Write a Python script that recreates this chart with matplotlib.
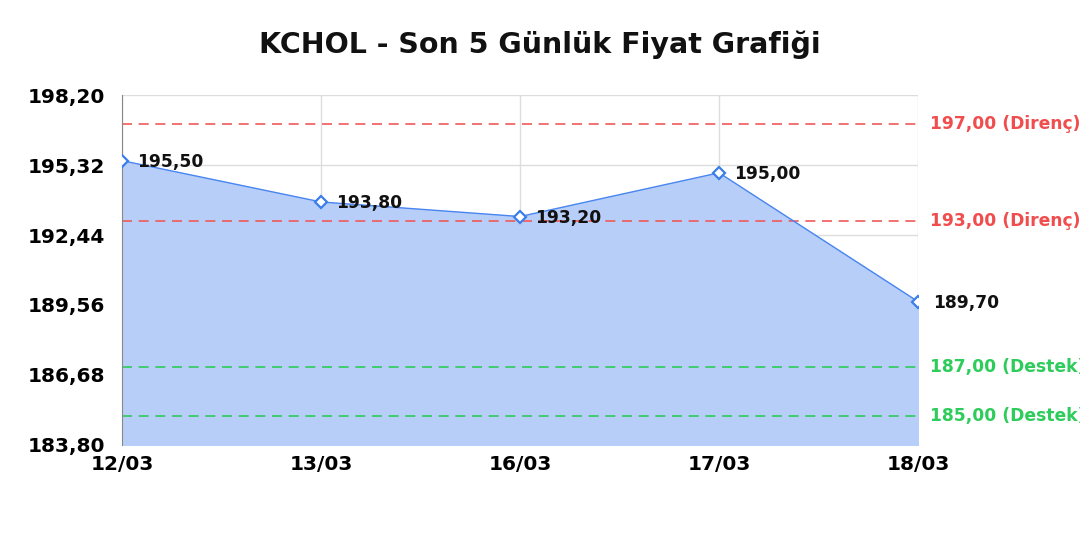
import matplotlib
matplotlib.use("Agg")
import matplotlib.pyplot as plt

dates = ["12/03", "13/03", "16/03", "17/03", "18/03"]
prices = [195.50, 193.80, 193.20, 195.00, 189.70]
resistance = [197.00, 193.00]
support = [187.00, 185.00]
yticks = [183.80, 186.68, 189.56, 192.44, 195.32, 198.20]


def fmt(v):
    return ("%.2f" % v).replace(".", ",")


fig = plt.figure(figsize=(10.8, 5.4), dpi=100)
ax = fig.add_axes([0.113, 0.176, 0.737, 0.648])

x = list(range(len(dates)))
ax.fill_between(x, prices, yticks[0], color="#b7cff8", zorder=1)
ax.plot(x, prices, color="#4a86f0", lw=1, zorder=3)
ax.plot(x, prices, ls="none", marker="D", ms=6.5, mfc="white", mec="#3b7de9", mew=1.6, zorder=4)

for xi, p in zip(x, prices):
    ax.annotate(fmt(p), (xi, p), xytext=(11, -1), textcoords="offset points",
                fontsize=12.3, fontweight="bold", color="#111111", va="center", ha="left",
                annotation_clip=False, zorder=5)

for lvl in resistance:
    ax.axhline(lvl, color="#f05a5a", ls=(0, (6, 4)), lw=1.2, zorder=2)
    ax.text(1.015, lvl, fmt(lvl) + " (Direnç)", transform=ax.get_yaxis_transform(),
            color="#f04e4e", fontsize=12.3, fontweight="bold", va="center", ha="left")
for lvl in support:
    ax.axhline(lvl, color="#2ecc5a", ls=(0, (6, 4)), lw=1.2, zorder=2)
    ax.text(1.015, lvl, fmt(lvl) + " (Destek)", transform=ax.get_yaxis_transform(),
            color="#2ecc5a", fontsize=12.3, fontweight="bold", va="center", ha="left")

ax.set_xlim(0, len(dates) - 1)
ax.set_ylim(yticks[0], yticks[-1])
ax.set_xticks(x)
ax.set_xticklabels(dates, fontsize=14.5, fontweight="bold")
ax.set_yticks(yticks)
ax.set_yticklabels([fmt(v) for v in yticks], fontsize=14.5, fontweight="bold")
ax.tick_params(axis="y", length=0, pad=12)
ax.tick_params(axis="x", length=0, pad=7)
ax.grid(True, color="#dddddd", lw=1, zorder=0)
ax.set_axisbelow(True)
for s in ["top", "right", "bottom"]:
    ax.spines[s].set_visible(False)
ax.spines["left"].set_color("#888888")

fig.text(0.5, 0.918, "KCHOL - Son 5 Günlük Fiyat Grafiği", ha="center", va="center",
         fontsize=20.5, fontweight="bold", color="#111111")

fig.savefig("out.png", dpi=100)
